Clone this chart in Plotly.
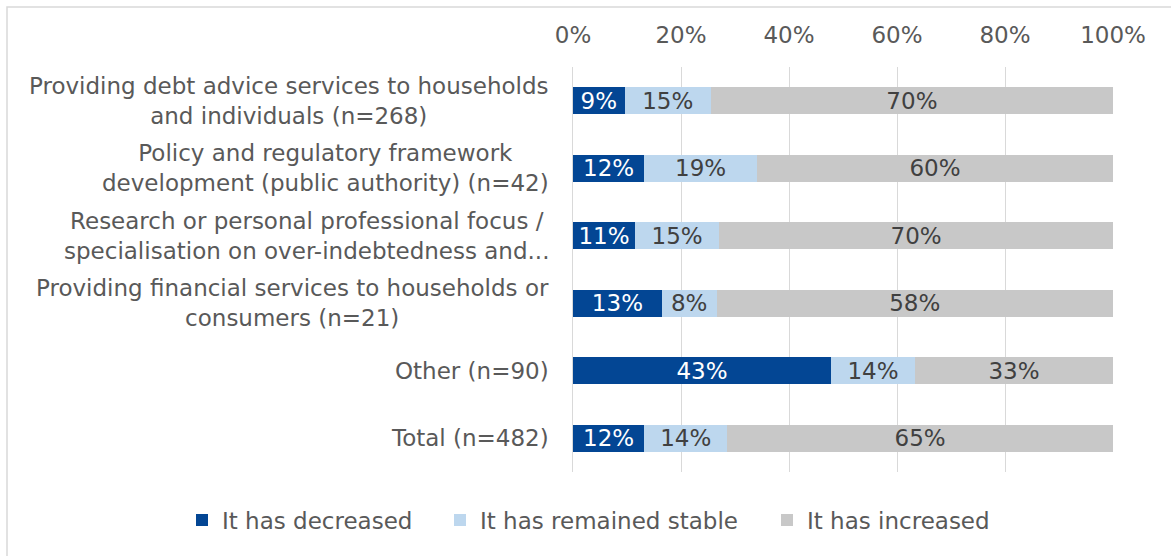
import plotly.graph_objects as go

# Survey responses per respondent group (shares, %; rows do not sum to 100
# because "don't know" answers are left out; the bars are normalised to 100%)
categories = [
    "Providing debt advice services to households<br>and individuals (n=268)",
    "Policy and regulatory framework<br>development (public authority) (n=42)",
    "Research or personal professional focus /<br>specialisation on over-indebtedness and...",
    "Providing financial services to households or<br>consumers (n=21)",
    "Other (n=90)",
    "Total (n=482)",
]
decreased = [9, 12, 11, 13, 43, 12]
stable = [15, 19, 15, 8, 14, 14]
increased = [70, 60, 70, 58, 33, 65]
series_names = ["It has decreased", "It has remained stable", "It has increased"]
x_ticks = [0, 20, 40, 60, 80, 100]

colors = ["#034694", "#BDD7EE", "#C8C8C8"]
text_colors = ["#FFFFFF", "#404040", "#404040"]
FONT = "DejaVu Sans"
FS = 23
GREY = "#595959"

W, H = 1171, 556
ML, MR, MT, MB = 573, 58, 67, 84

# one legend per series so the three entries sit on a single row below the chart
legend_ids = ["legend", "legend2", "legend3"]
legend_text_x = [220, 478, 805]

fig = go.Figure()
for name, vals, col, tcol, lg in zip(series_names, [decreased, stable, increased],
                                     colors, text_colors, legend_ids):
    fig.add_trace(go.Bar(
        y=categories,
        x=vals,
        name=name,
        orientation="h",
        legend=lg,
        marker=dict(color=col, line=dict(width=0)),
        text=[f"{v}%" for v in vals],
        texttemplate="%{text}",
        textposition="inside",
        insidetextanchor="middle",
        constraintext="none",
        textfont=dict(family=FONT, size=FS, color=tcol),
    ))

# category labels drawn as centred multi-line annotations
for cat in categories:
    fig.add_annotation(
        x=-0.04, y=cat, xref="paper", yref="y",
        text=cat, showarrow=False, xanchor="right", yanchor="middle",
        align="center", font=dict(family=FONT, size=FS, color=GREY),
    )

pw = W - ML - MR
ph = H - MT - MB
# outer chart frame (right and bottom edges run off the page)
fig.add_shape(
    type="rect", xref="paper", yref="paper",
    x0=(7 - ML) / pw, x1=(W + 40 - ML) / pw,
    y0=-(H + 40 - MT - ph) / ph, y1=(ph + MT - 7) / ph,
    line=dict(color="#D9D9D9", width=1.5), fillcolor="rgba(0,0,0,0)", layer="below",
)

legend_style = dict(
    orientation="h", xref="container", yref="container",
    xanchor="left", y=1 - 520 / H, yanchor="middle",
    font=dict(family=FONT, size=FS, color=GREY),
    bgcolor="rgba(0,0,0,0)", itemwidth=30,
)
legends = {lg: dict(legend_style, x=(tx - 38) / W) for lg, tx in zip(legend_ids, legend_text_x)}

fig.update_layout(
    width=W, height=H,
    margin=dict(l=ML, r=MR, t=MT, b=MB, autoexpand=False),
    paper_bgcolor="white", plot_bgcolor="white",
    barmode="stack", barnorm="percent", bargap=0.6,
    font=dict(family=FONT, size=FS, color=GREY),
    showlegend=True,
    xaxis=dict(
        side="top", range=[0, 100], tickvals=x_ticks,
        ticktext=[f"{t}%" for t in x_ticks],
        showgrid=True, gridcolor="#D9D9D9", gridwidth=1,
        zeroline=False, showline=False, ticks="",
        ticklabelstandoff=18,
        tickfont=dict(family=FONT, size=FS, color=GREY),
    ),
    yaxis=dict(
        autorange="reversed", showticklabels=False, ticks="",
        showgrid=False, zeroline=False,
        showline=True, linecolor="#D9D9D9", linewidth=1,
    ),
    **legends,
)

fig.write_html("out.html")
